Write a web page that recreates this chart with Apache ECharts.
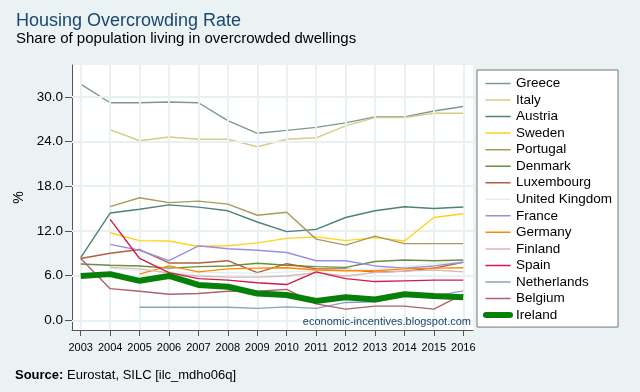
<!DOCTYPE html>
<html>
<head>
<meta charset="utf-8">
<script src="https://cdn.jsdelivr.net/npm/echarts@6/dist/echarts.min.js"></script>
<style>
html,body{margin:0;padding:0;background:#eaf2f3;}
#c{width:640px;height:392px;}
</style>
</head>
<body>
<div id="c"></div>
<script>
// ---- data ----
var years = [2003,2004,2005,2006,2007,2008,2009,2010,2011,2012,2013,2014,2015,2016];
var yTicks = [0,6,12,18,24,30];
var countries = ["Greece","Italy","Austria","Sweden","Portugal","Denmark","Luxembourg","United Kingdom","France","Germany","Finland","Spain","Netherlands","Belgium","Ireland"];
var greece      = [31.7,29.2,29.2,29.3,29.2,26.8,25.1,25.5,25.9,26.5,27.3,27.3,28.1,28.7];
var italy       = [null,25.6,24.1,24.6,24.3,24.3,23.3,24.3,24.5,26.1,27.2,27.2,27.8,27.8];
var austria     = [8.4,14.4,14.9,15.5,15.2,14.7,13.2,11.9,12.2,13.8,14.7,15.25,15.0,15.2];
var sweden      = [null,11.75,10.7,10.65,9.9,10.0,10.4,11.0,11.2,10.7,11.1,10.65,13.8,14.3];
var portugal    = [null,15.25,16.45,15.8,16.0,15.6,14.1,14.5,10.9,10.1,11.3,10.3,10.3,10.3];
var denmark     = [7.55,7.4,7.3,7.0,7.2,7.3,7.65,7.4,7.2,7.1,7.9,8.1,8.0,8.1];
var luxembourg  = [8.3,9.0,9.5,7.7,7.7,8.0,6.4,7.6,6.9,6.9,6.45,6.6,7.0,7.8];
var uk          = [null,7.0,6.6,6.5,6.4,6.4,6.3,6.5,6.6,6.8,6.9,7.2,7.6,7.8];
var france      = [null,10.2,9.4,8.0,10.0,9.6,9.4,9.1,8.0,8.0,7.3,7.0,7.3,7.8];
var germany     = [null,null,6.2,7.3,6.5,6.9,7.0,7.05,6.75,6.65,6.65,6.9,7.0,7.05];
var finland     = [null,7.1,6.9,6.35,5.95,5.8,5.8,5.95,6.4,5.95,6.4,6.6,6.75,6.5];
var spain       = [null,13.55,8.3,6.4,5.6,5.4,5.05,4.8,6.5,5.6,5.2,5.3,5.4,5.4];
var netherlands = [null,null,1.75,1.75,1.75,1.75,1.6,1.8,1.6,2.4,2.5,3.25,3.25,3.95];
var belgium     = [8.3,4.25,3.9,3.5,3.6,3.9,3.9,4.15,2.2,1.5,1.9,1.9,1.5,3.5];
var ireland     = [5.95,6.2,5.3,5.95,4.75,4.5,3.6,3.4,2.6,3.1,2.8,3.5,3.25,3.1];

var seriesValues = [greece,italy,austria,sweden,portugal,denmark,luxembourg,uk,france,germany,finland,spain,netherlands,belgium,ireland];
var colors = ["#7d998c","#d6cb88","#4f8178","#ffd21a","#a89a5e","#698f3e","#b0603f","#e4edf0","#9b8fe2","#ff8a00","#d7b9b9","#d21c4a","#8aa2ba","#b2606b","#07800a"];

var series = countries.map(function(name, i){
  return {
    name: name,
    type: 'line',
    symbol: 'none',
    showSymbol: false,
    connectNulls: false,
    animation: false,
    z: 3 + i,
    lineStyle: {color: colors[i], width: name === 'Ireland' ? 6 : 1.4},
    itemStyle: {color: colors[i]},
    data: years.map(function(y, k){ return [y, seriesValues[i][k]]; })
  };
});

// grid lines drawn at the tick values through the axes
var gridColor = '#e8f0f2';
series.unshift({
  name: '_grid', type: 'line', data: [], z: 1, silent: true, animation: false,
  markLine: {
    silent: true, symbol: ['none','none'], animation: false,
    label: {show: false},
    lineStyle: {color: gridColor, width: 1.8, type: 'solid'},
    emphasis: {disabled: true},
    data: yTicks.map(function(v){ return {yAxis: v}; }).concat(years.map(function(v){ return {xAxis: v}; }))
  }
});

var legendData = countries.map(function(name, i){
  return {
    name: name,
    itemStyle: {color: 'rgba(0,0,0,0)', opacity: 0, borderWidth: 0},
    lineStyle: {color: colors[i], width: name === 'Ireland' ? 6 : 1.5, cap: 'round'}
  };
});

var chart = echarts.init(document.getElementById('c'), null, {renderer: 'canvas'});
var F = '"Liberation Sans", Arial, sans-serif';
chart.setOption({
  backgroundColor: '#eaf2f3',
  animation: false,
  textStyle: {fontFamily: F},
  grid: {left: 72, right: 167, top: 65, bottom: 62, show: true, backgroundColor: '#ffffff', borderWidth: 0},
  xAxis: {
    type: 'value', min: 2002.704, max: 2016.33,
    axisLine: {show: true, onZero: false, lineStyle: {color: '#555', width: 1}},
    axisTick: {show: true, length: 6, customValues: years, lineStyle: {color: '#555'}},
    axisLabel: {customValues: years, formatter: function(v){return String(v);}, color: '#000', fontSize: 11, margin: 12, fontFamily: F},
    splitLine: {show: false}
  },
  yAxis: {
    type: 'value', min: -1.3, max: 34.27,
    name: '%', nameLocation: 'middle', nameGap: 35, nameRotate: 90,
    nameTextStyle: {color: '#000', fontSize: 14, fontFamily: F},
    axisLine: {show: true, lineStyle: {color: '#555', width: 1}},
    axisTick: {show: true, length: 7, customValues: yTicks, lineStyle: {color: '#555'}},
    axisLabel: {customValues: yTicks, formatter: function(v){return v.toFixed(1);}, color: '#000', fontSize: 13.5, margin: 9, fontFamily: F},
    splitLine: {show: false}
  },
  legend: {
    orient: 'vertical', left: 477, top: 70,
    padding: [6.5, 6, 5, 6],
    itemWidth: 24, itemHeight: 14, itemGap: 2.54,
    backgroundColor: '#ffffff', borderColor: '#777', borderWidth: 1,
    textStyle: {color: '#000', fontSize: 13.5, fontFamily: F, padding: [0,0,0,1]},
    data: legendData
  },
  graphic: [
    {type: 'text', left: 16, top: 12, style: {text: 'Housing Overcrowding Rate', font: '18px ' + F, fill: '#1a476f'}},
    {type: 'text', left: 16, top: 31, style: {text: 'Share of population living in overcrowded dwellings', font: '15px ' + F, fill: '#000'}},
    {type: 'text', left: 15, top: 369, style: {
      text: '{b|Source:} Eurostat, SILC [ilc_mdho06q]',
      font: '13px ' + F, fill: '#000',
      rich: {b: {fontWeight: 'bold', fontSize: 13, fontFamily: F, fill: '#000'}}
    }},
    {type: 'text', right: 169, top: 316, style: {text: 'economic-incentives.blogspot.com', font: '11px ' + F, fill: '#1a476f'}, z: 100}
  ],
  series: series
});
</script>
</body>
</html>
